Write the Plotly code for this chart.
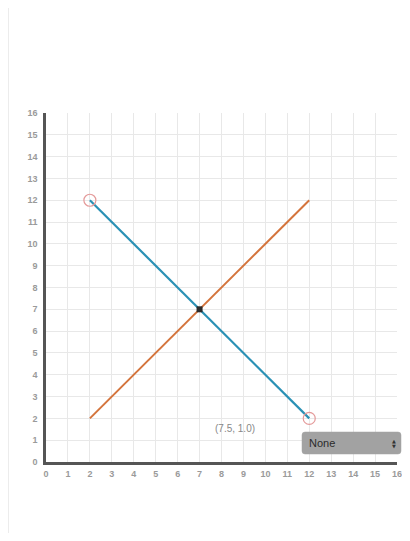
import plotly.graph_objects as go

# Data
orange_x = [2, 12]
orange_y = [2, 12]
blue_x = [2, 12]
blue_y = [12, 2]
open_pts_x = [2, 12]
open_pts_y = [12, 2]
cross_x = [7]
cross_y = [7]
label_text = "(7.5, 1.0)"
label_pos = [8.6, 1.55]
tick_vals = list(range(0, 17))
dropdown_label = "None"

# plot area in figure pixels (page is offset by 8px body margin)
W, H = 402, 525
L, R, T, B = 38, 389, 105, 454
PW, PH = R - L, B - T


def px(xp):  # page pixel -> paper x
    return (xp - 8 - L) / PW


def py(yp):  # page pixel -> paper y
    return (B - (yp - 8)) / PH


fig = go.Figure()
fig.add_trace(go.Scatter(x=orange_x, y=orange_y, mode="lines",
                         line=dict(color="#d4743c", width=2), hoverinfo="skip"))
fig.add_trace(go.Scatter(x=blue_x, y=blue_y, mode="lines",
                         line=dict(color="#2a91b5", width=2.2), hoverinfo="skip"))
fig.add_trace(go.Scatter(x=open_pts_x, y=open_pts_y, mode="markers",
                         marker=dict(symbol="circle-open", size=12, color="#e49a9a",
                                     line=dict(width=1.2, color="#e49a9a")), hoverinfo="skip"))
fig.add_trace(go.Scatter(x=cross_x, y=cross_y, mode="markers",
                         marker=dict(symbol="square", size=6, color="#2b2b2b"), hoverinfo="skip"))

fig.add_annotation(x=label_pos[0], y=label_pos[1], text=label_text, showarrow=False,
                   font=dict(size=10, color="#888888", family="Liberation Sans"))

# card border
fig.add_shape(type="rect", xref="paper", yref="paper",
              x0=px(8.5), x1=px(408.5), y0=py(560), y1=py(5),
              line=dict(color="#ececec", width=1), fillcolor="rgba(0,0,0,0)", layer="below")

# dropdown look-alike (rounded rect)
x0, x1, y0, y1 = px(302), px(401), py(454), py(432)
rx, ry = 3 / PW, 3 / PH
path = (f"M {x0+rx},{y0} L {x1-rx},{y0} Q {x1},{y0} {x1},{y0+ry} "
        f"L {x1},{y1-ry} Q {x1},{y1} {x1-rx},{y1} L {x0+rx},{y1} "
        f"Q {x0},{y1} {x0},{y1-ry} L {x0},{y0+ry} Q {x0},{y0} {x0+rx},{y0} Z")
fig.add_shape(type="path", xref="paper", yref="paper", path=path,
              line=dict(color="#a2a2a2", width=0.5), fillcolor="#a2a2a2", layer="above")
fig.add_annotation(xref="paper", yref="paper", x=px(307), y=py(443),
                   xanchor="left", yanchor="middle", text=dropdown_label, showarrow=False,
                   font=dict(size=11, color="#2a2a2a", family="Liberation Sans"))
fig.add_annotation(xref="paper", yref="paper", x=px(394), y=py(440.5),
                   xanchor="center", yanchor="middle", text="▲", showarrow=False,
                   font=dict(size=5, color="#333333", family="DejaVu Sans"))
fig.add_annotation(xref="paper", yref="paper", x=px(394), y=py(445.5),
                   xanchor="center", yanchor="middle", text="▼", showarrow=False,
                   font=dict(size=5, color="#333333", family="DejaVu Sans"))

axis_common = dict(range=[0, 16], tickvals=tick_vals, showgrid=True, gridcolor="#e8e8e8",
                   gridwidth=1, zeroline=False, showline=True, linecolor="#555555",
                   linewidth=2.5, ticks="", automargin=False,
                   tickfont=dict(size=9, color="#9a9a9a", family="Liberation Sans", weight="bold"),
                   fixedrange=True)

fig.update_layout(
    width=W, height=H,
    margin=dict(l=L, r=W - R, t=T, b=H - B),
    paper_bgcolor="white", plot_bgcolor="white",
    showlegend=False,
    xaxis=dict(**axis_common, ticklabelstandoff=1),
    yaxis=dict(**axis_common, ticklabelstandoff=4),
)
fig.write_html("out.html")
